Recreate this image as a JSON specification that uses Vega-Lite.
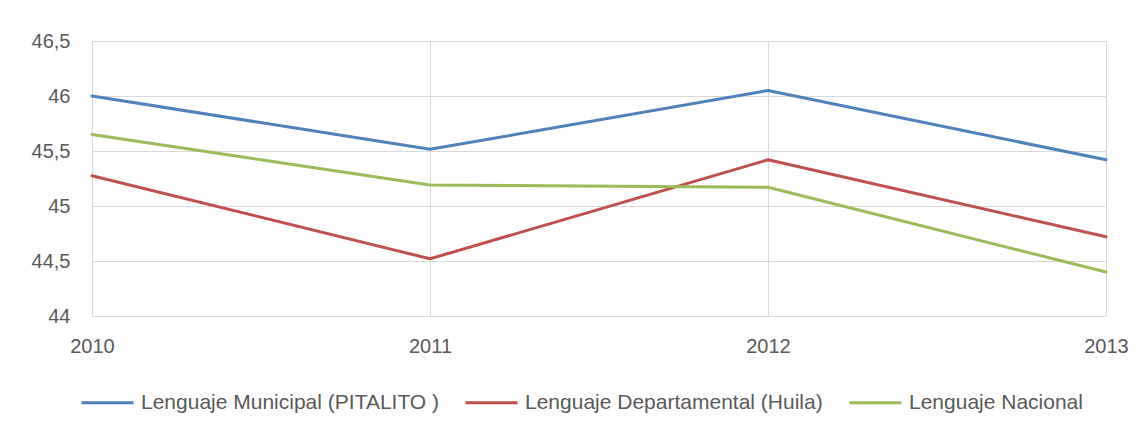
{
  "$schema": "https://vega.github.io/schema/vega-lite/v6.json",
  "width": 1014,
  "height": 275,
  "autosize": {"type": "none"},
  "padding": {"left": 92, "top": 41, "right": 38, "bottom": 118},
  "background": "white",
  "data": {
    "values": [
      {"year": 2010, "serie": "Lenguaje  Municipal (PITALITO )", "valor": 46.0},
      {"year": 2011, "serie": "Lenguaje  Municipal (PITALITO )", "valor": 45.515},
      {"year": 2012, "serie": "Lenguaje  Municipal (PITALITO )", "valor": 46.05},
      {"year": 2013, "serie": "Lenguaje  Municipal (PITALITO )", "valor": 45.42},
      {"year": 2010, "serie": "Lenguaje  Departamental (Huila)", "valor": 45.275},
      {"year": 2011, "serie": "Lenguaje  Departamental (Huila)", "valor": 44.52},
      {"year": 2012, "serie": "Lenguaje  Departamental (Huila)", "valor": 45.42},
      {"year": 2013, "serie": "Lenguaje  Departamental (Huila)", "valor": 44.72},
      {"year": 2010, "serie": "Lenguaje  Nacional", "valor": 45.65},
      {"year": 2011, "serie": "Lenguaje  Nacional", "valor": 45.19},
      {"year": 2012, "serie": "Lenguaje  Nacional", "valor": 45.17},
      {"year": 2013, "serie": "Lenguaje  Nacional", "valor": 44.40}
    ]
  },
  "mark": {"type": "line", "strokeWidth": 3, "strokeCap": "round", "strokeJoin": "round"},
  "encoding": {
    "x": {
      "field": "year",
      "type": "quantitative",
      "scale": {"domain": [2010, 2013], "nice": false, "zero": false},
      "axis": {
        "title": null,
        "values": [2010, 2011, 2012, 2013],
        "format": "d",
        "grid": true,
        "gridColor": "#d9d9d9",
        "gridWidth": 1,
        "domain": true,
        "domainColor": "#d9d9d9",
        "ticks": false,
        "labelPadding": 20,
        "labelFlush": false,
        "labelFont": "Liberation Sans",
        "labelFontSize": 20,
        "labelColor": "#595959"
      }
    },
    "y": {
      "field": "valor",
      "type": "quantitative",
      "scale": {"domain": [44, 46.5], "nice": false, "zero": false},
      "axis": {
        "title": null,
        "values": [44, 44.5, 45, 45.5, 46, 46.5],
        "labelExpr": "replace(format(datum.value, '~g'), '.', ',')",
        "grid": true,
        "gridColor": "#d9d9d9",
        "gridWidth": 1,
        "domain": false,
        "ticks": false,
        "labelPadding": 22,
        "labelFont": "Liberation Sans",
        "labelFontSize": 20,
        "labelColor": "#595959"
      }
    },
    "color": {
      "field": "serie",
      "type": "nominal",
      "sort": ["Lenguaje  Municipal (PITALITO )", "Lenguaje  Departamental (Huila)", "Lenguaje  Nacional"],
      "scale": {
        "domain": ["Lenguaje  Municipal (PITALITO )", "Lenguaje  Departamental (Huila)", "Lenguaje  Nacional"],
        "range": ["#4f81bd", "#c0504d", "#9bbb59"]
      },
      "legend": {
        "title": null,
        "orient": "none",
        "direction": "horizontal",
        "legendX": -12,
        "legendY": 334,
        "symbolType": "stroke",
        "symbolSize": 2704,
        "symbolStrokeWidth": 3,
        "labelFont": "Liberation Sans",
        "labelFontSize": 21,
        "labelColor": "#595959",
        "labelOffset": 6,
        "columnPadding": 14,
        "labelLimit": 400
      }
    }
  },
  "config": {"view": {"stroke": null}}
}
